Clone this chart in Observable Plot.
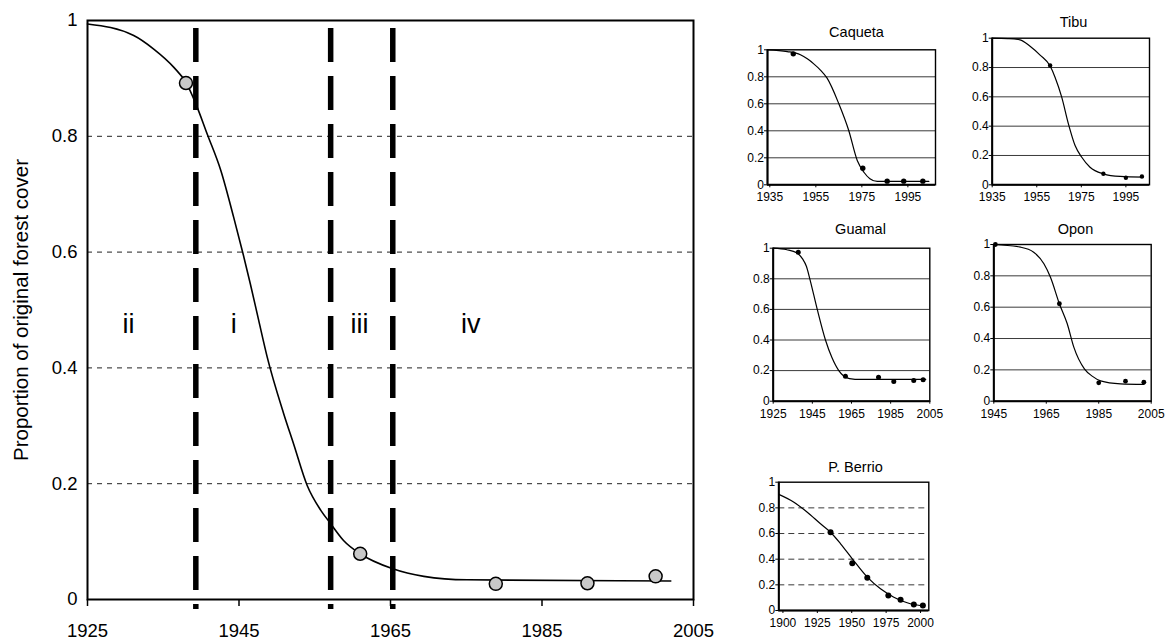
<!DOCTYPE html>
<html><head><meta charset="utf-8">
<script src="https://cdn.jsdelivr.net/npm/d3@7"></script>
<script src="https://cdn.jsdelivr.net/npm/@observablehq/plot@0.6"></script>
<style>
html,body{margin:0;padding:0;background:#fff;}
#root{position:relative;width:1171px;height:641px;overflow:hidden;font-family:"Liberation Sans",Arial,sans-serif;}
#root > div{position:absolute;}
#root svg{overflow:visible;}
</style></head><body><div id="root"></div>
<script>
// ---------- Main chart data ----------
const mainXTicks = [1925, 1945, 1965, 1985, 2005];
const mainYTicks = [0, 0.2, 0.4, 0.6, 0.8, 1];
const mainGrid = [0.2, 0.4, 0.6, 0.8];
const mainCurveYear  = [1925, 1931.1, 1933.7, 1936.4, 1938.0, 1939.3, 1940.8, 1942.6, 1944.3, 1945.5, 1946.5, 1947.6, 1948.7, 1950.9, 1952.2, 1954.0, 1955.8, 1957.1, 1958.8, 1961.0, 1965.3, 1969.4, 1975.1, 2002.0];
const mainCurveValue = [0.994, 0.974, 0.951, 0.919, 0.893, 0.856, 0.804, 0.741, 0.660, 0.599, 0.545, 0.482, 0.420, 0.321, 0.269, 0.197, 0.154, 0.131, 0.102, 0.079, 0.053, 0.040, 0.034, 0.032];
const mainPointYear  = [1938.0, 1961.0, 1978.9, 1991.0, 2000.0];
const mainPointValue = [0.892, 0.079, 0.027, 0.028, 0.040];
const phaseBreakYear = [1939.3, 1957.1, 1965.3];
const phaseLabel     = ["ii", "i", "iii", "iv"];
const phaseLabelYear = [1930.4, 1944.3, 1960.9, 1975.6];
const mainYLabel = "Proportion of original forest cover";

// ---------- Small charts data ([year, proportion]) ----------
const smallYTicks = [0, 0.2, 0.4, 0.6, 0.8, 1];
const smallGrid = [0.2, 0.4, 0.6, 0.8];

const caquetaTicks = [1935, 1955, 1975, 1995];
const caquetaCurve = [[1934,1.0],[1942.6,0.987],[1948.3,0.963],[1951.3,0.933],[1954.1,0.896],[1957,0.850],[1959.9,0.790],[1965,0.6],[1969.3,0.402],[1973,0.18],[1975.9,0.093],[1978.5,0.045],[1981.7,0.025],[2004.1,0.025]];
const caquetaPoints = [[1945.2,0.970],[1975.4,0.123],[1986.0,0.027],[1993.2,0.027],[2001.5,0.027]];

const tibuTicks = [1935, 1955, 1975, 1995];
const tibuCurve = [[1935,1.0],[1942,0.997],[1947.5,0.989],[1952,0.945],[1956.5,0.885],[1961,0.81],[1963.2,0.734],[1966.2,0.598],[1969.2,0.416],[1972.2,0.268],[1975.2,0.188],[1978.9,0.12],[1984.9,0.075],[1992.4,0.057],[2002.8,0.052]];
const tibuPoints = [[1961,0.814],[1984.9,0.075],[1995,0.048],[2002.2,0.057]];

const guamalTicks = [1925, 1945, 1965, 1985, 2005];
const guamalCurve = [[1925,1.0],[1932,0.99],[1937,0.97],[1940,0.93],[1942,0.88],[1943.7,0.8],[1947.5,0.6],[1951.7,0.4],[1955,0.285],[1958.5,0.2],[1961,0.165],[1964,0.148],[1969.6,0.142],[2002.9,0.142]];
const guamalPoints = [[1937.8,0.974],[1961.9,0.163],[1978.8,0.157],[1986.6,0.129],[1996.8,0.135],[2001.6,0.14]];

const oponTicks = [1945, 1965, 1985, 2005];
const oponCurve = [[1945,1.0],[1955.2,0.983],[1960.2,0.951],[1964.1,0.877],[1966.6,0.791],[1970,0.622],[1973,0.494],[1975.5,0.345],[1979.6,0.205],[1982.5,0.160],[1985.7,0.13],[1993.3,0.111],[2002.2,0.107]];
const oponPoints = [[1945.6,1.0],[1970,0.622],[1985,0.117],[1995.2,0.128],[2002.2,0.121]];

const berrioTicks = [1900, 1925, 1950, 1975, 2000];
const berrioCurve = [[1897,0.905],[1908,0.844],[1917.7,0.766],[1927.3,0.676],[1934.6,0.61],[1941.9,0.52],[1950.4,0.403],[1961.3,0.26],[1970.9,0.169],[1980.6,0.104],[1990.3,0.06],[2002.4,0.034]];
const berrioPoints = [[1934.6,0.61],[1950.4,0.369],[1961.3,0.255],[1976.6,0.117],[1985.5,0.083],[1995.1,0.047],[2001.7,0.039]];

const FONT = '"Liberation Sans", Arial, Helvetica, sans-serif';
const root = document.getElementById("root");
function place(el, left, top) {
  const d = document.createElement("div");
  d.style.left = left + "px"; d.style.top = top + "px";
  d.appendChild(el); root.appendChild(d);
}

// ---------- Main chart ----------
const mainCurve = mainCurveYear.map((x, i) => ({x, y: mainCurveValue[i]}));
const mainPoints = mainPointYear.map((x, i) => ({x, y: mainPointValue[i]}));
const mainChart = Plot.plot({
  width: 700, height: 641,
  marginLeft: 87, marginRight: 7, marginTop: 20, marginBottom: 42,
  style: {fontFamily: FONT, color: "#000", background: "transparent", overflow: "visible"},
  x: {domain: [1925, 2005]},
  y: {domain: [0, 1]},
  marks: [
    Plot.ruleY(mainGrid, {stroke: "#222", strokeWidth: 1, strokeDasharray: "5,5"}),
    Plot.ruleX(phaseBreakYear, {stroke: "#000", strokeWidth: 5.5, strokeDasharray: "34,14", insetTop: 8, insetBottom: -10}),
    Plot.frame({stroke: "#000", strokeWidth: 2}),
    Plot.axisX(mainXTicks, {tickSize: 7, tickPadding: 17, fontSize: 18.5, tickFormat: d => String(d), strokeWidth: 1.5, label: null}),
    Plot.axisY(mainYTicks, {tickSize: 0, tickPadding: 10, fontSize: 18.5, tickFormat: d => String(d), label: null}),
    Plot.text([mainYLabel], {frameAnchor: "left", rotate: -90, dx: -66, textAnchor: "middle", lineAnchor: "middle", fontSize: 20.5}),
    Plot.text(phaseLabel, {x: (d, i) => phaseLabelYear[i], frameAnchor: "middle", dy: 14, fontSize: 27, lineAnchor: "middle"}),
    Plot.line(mainCurve, {x: "x", y: "y", curve: "monotone-x", stroke: "#000", strokeWidth: 1.6}),
    Plot.dot(mainPoints, {x: "x", y: "y", r: 6.5, fill: "#c8c8c8", stroke: "#000", strokeWidth: 1.5})
  ]
});
place(mainChart, 0, 0);

// ---------- Small charts ----------
function small(c) {
  return Plot.plot({
    width: c.width, height: c.height,
    marginLeft: c.ml, marginRight: c.mr, marginTop: c.mt, marginBottom: c.mb,
    style: {fontFamily: FONT, color: "#000", background: "transparent", overflow: "visible"},
    x: {domain: c.domain},
    y: {domain: [0, 1]},
    marks: [
      Plot.ruleY(smallGrid, {stroke: "#3a3a3a", strokeWidth: 1, strokeDasharray: c.dashed ? "6,4" : null}),
      Plot.frame({stroke: "#000", strokeWidth: 1.4}),
      Plot.ruleY([0], {stroke: "#000", strokeWidth: 2}),
      Plot.ruleX([c.domain[0]], {stroke: "#000", strokeWidth: 2}),
      Plot.axisX(c.ticks, {tickSize: 3, tickPadding: 5, fontSize: 12, tickFormat: d => String(d), label: null}),
      Plot.axisY(smallYTicks, {tickSize: 3, tickPadding: 0.5, fontSize: 12, tickFormat: d => String(d), label: null}),
      Plot.line(c.curve, {x: d => d[0], y: d => d[1], curve: "monotone-x", stroke: "#000", strokeWidth: 1.2}),
      Plot.dot(c.points, {x: d => d[0], y: d => d[1], r: c.r, fill: "#000", stroke: "none"}),
      Plot.text([c.title], {frameAnchor: "top", dx: c.tdx, dy: c.tdy, fontSize: 14.5, lineAnchor: "middle"})
    ]
  });
}

place(small({title: "Caqueta", width: 230, height: 210, ml: 47, mr: 15, mt: 49.3, mb: 25.7,
  domain: [1934, 2007], ticks: caquetaTicks, curve: caquetaCurve, points: caquetaPoints, r: 2.7, tdx: 5, tdy: -17.3}), 720, 0);
place(small({title: "Tibu", width: 231, height: 210, ml: 51.7, mr: 22, mt: 37.7, mb: 25.7,
  domain: [1935, 2005.6], ticks: tibuTicks, curve: tibuCurve, points: tibuPoints, r: 2.2, tdx: 2.7, tdy: -15.7}), 940, 0);
place(small({title: "Guamal", width: 230, height: 220, ml: 52.7, mr: 20.7, mt: 37.7, mb: 29.3,
  domain: [1925, 2005], ticks: guamalTicks, curve: guamalCurve, points: guamalPoints, r: 2.5, tdx: 9, tdy: -18.4}), 720, 210);
place(small({title: "Opon", width: 231, height: 220, ml: 53.3, mr: 20.3, mt: 34, mb: 29.3,
  domain: [1945, 2005], ticks: oponTicks, curve: oponCurve, points: oponPoints, r: 2.4, tdx: 3, tdy: -14.7}), 940, 210);
place(small({title: "P. Berrio", width: 230, height: 201, ml: 58.3, mr: 21.7, mt: 41.7, mb: 31,
  domain: [1897, 2006], ticks: berrioTicks, curve: berrioCurve, points: berrioPoints, r: 3, dashed: true, tdx: 1.7, tdy: -14.4}), 720, 440);
</script>
</body></html>
